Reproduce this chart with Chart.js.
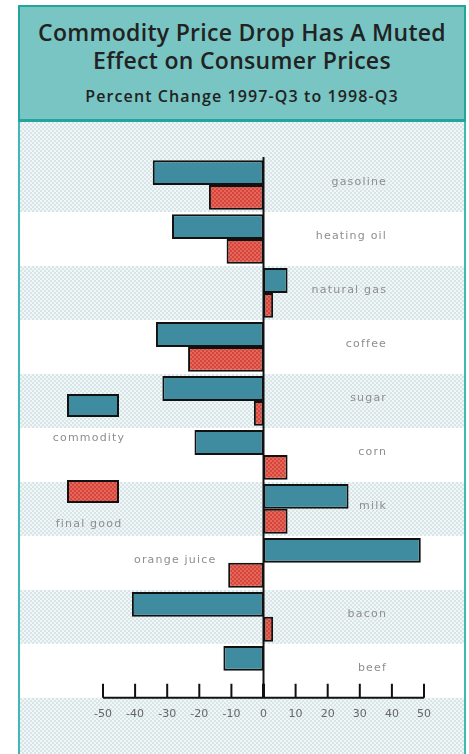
<!DOCTYPE html>
<html>
<head>
<meta charset="utf-8">
<script src="https://cdn.jsdelivr.net/npm/chart.js@4/dist/chart.umd.min.js"></script>
<style>
  body { margin: 0; background: #fff; width: 469px; height: 754px; overflow: hidden; position: relative; }
  #head {
    position: absolute; left: 18px; top: 5px; width: 448px; height: 117px;
    box-sizing: border-box; background: #78c5c3;
    border: 2px solid #22a59d; border-bottom-width: 3px;
    font-family: "Open Sans", sans-serif; color: #222; text-align: center;
  }
  #head .t { font-weight: 600; font-size: 23px; letter-spacing: 0.3px; line-height: 28px; margin-top: 11px; }
  #head .s { font-weight: 600; font-size: 16px; letter-spacing: 1.1px; line-height: 20px; margin-top: 12px; }
  #wrap {
    position: absolute; left: 18px; top: 122px; width: 448px; height: 632px;
    box-sizing: border-box; border-left: 2px solid #3dbab3; border-right: 2px solid #3dbab3;
  }
</style>
</head>
<body>
<div id="head">
  <div class="t">Commodity Price Drop Has A Muted<br>Effect on Consumer Prices</div>
  <div class="s">Percent Change 1997-Q3 to 1998-Q3</div>
</div>
<div id="wrap"><canvas id="c" width="444" height="632"></canvas></div>
<script>
var categories = ['gasoline', 'heating oil', 'natural gas', 'coffee', 'sugar', 'corn', 'milk', 'orange juice', 'bacon', 'beef'];
var commodity = [-34.5, -28.5, 7.5, -33.5, -31.5, -21.5, 26.5, 49, -41, -12.5];
var finalGood = [-17, -11.5, 3, -23.5, -3, 7.5, 7.5, -11, 3, null];
var seriesNames = ['commodity', 'final good'];

var makePattern = function(bg, dot){
  var p = document.createElement('canvas');
  p.width = 4; p.height = 4;
  var g = p.getContext('2d');
  g.fillStyle = bg;
  g.fillRect(0, 0, 4, 4);
  g.fillStyle = dot;
  g.fillRect(0, 0, 2, 2);
  g.fillRect(2, 2, 2, 2);
  return document.getElementById('c').getContext('2d').createPattern(p, 'repeat');
};

var bandFill = makePattern('#f1f6f7', '#d7e5e8');
var redFill = makePattern('#d8443a', '#e2685c');
var blueFill = '#3f8b9f';

var bands = {
  id: 'bands',
  beforeDraw: function(chart){
    var ctx = chart.ctx;
    var y = chart.scales.y;
    var a = chart.chartArea;
    var half = (y.getPixelForValue(1) - y.getPixelForValue(0)) / 2;
    ctx.save();
    ctx.fillStyle = bandFill;
    for (var i = 0; i < categories.length; i += 2){
      var top = y.getPixelForValue(i) - half;
      if (i == 0) top = 0;
      ctx.fillRect(0, top, chart.width, y.getPixelForValue(i) + half - top);
    }
    ctx.fillRect(0, a.bottom, chart.width, chart.height - a.bottom);
    ctx.restore();
  },
  afterDatasetsDraw: function(chart){
    var ctx = chart.ctx;
    var x = chart.scales.x;
    var y = chart.scales.y;
    var a = chart.chartArea;
    ctx.save();
    // zero line
    ctx.strokeStyle = '#111';
    ctx.lineWidth = 2;
    ctx.beginPath();
    ctx.moveTo(x.getPixelForValue(0), a.top - 1);
    ctx.lineTo(x.getPixelForValue(0), a.bottom);
    ctx.stroke();
    // axis with upward ticks
    ctx.beginPath();
    ctx.moveTo(x.getPixelForValue(-50), a.bottom);
    ctx.lineTo(x.getPixelForValue(50), a.bottom);
    for (var i = 0; i < x.ticks.length; i++){
      var px = x.getPixelForTick(i);
      ctx.moveTo(px, a.bottom);
      ctx.lineTo(px, a.bottom - 14);
    }
    ctx.stroke();
    ctx.lineWidth = 3;
    ctx.beginPath();
    ctx.moveTo(x.getPixelForValue(0), a.bottom);
    ctx.lineTo(x.getPixelForValue(0), a.bottom - 14);
    ctx.stroke();

    // category labels
    ctx.font = '11px "DejaVu Sans"';
    ctx.letterSpacing = '1.2px';
    ctx.fillStyle = '#8e8e8e';
    ctx.textBaseline = 'middle';
    for (var i = 0; i < categories.length; i++){
      var py = y.getPixelForValue(i) - 3;
      if (categories[i] == 'orange juice'){
        ctx.textAlign = 'center';
        ctx.fillText(categories[i], x.getPixelForValue(-27.5), py);
      }
      else{
        ctx.textAlign = 'right';
        ctx.fillText(categories[i], x.getPixelForValue(38.5), py);
      }
    }

    // legend
    var fills = [blueFill, redFill];
    var boxTop = [273, 359];
    for (var k = 0; k < 2; k++){
      ctx.fillStyle = fills[k];
      ctx.fillRect(48, boxTop[k], 50, 21);
      ctx.strokeStyle = '#111';
      ctx.lineWidth = 2;
      ctx.strokeRect(48, boxTop[k], 50, 21);
      ctx.fillStyle = '#8e8e8e';
      ctx.textAlign = 'center';
      ctx.fillText(seriesNames[k], 69, boxTop[k] + 43);
    }
    ctx.restore();
  }
};

new Chart(document.getElementById('c'), {
  type: 'bar',
  data: {
    labels: categories,
    datasets: [
      {label: seriesNames[0], data: commodity, backgroundColor: blueFill, borderColor: '#111', borderWidth: 2, borderSkipped: false},
      {label: seriesNames[1], data: finalGood, backgroundColor: redFill, borderColor: '#111', borderWidth: 2, borderSkipped: false}
    ]
  },
  options: {
    indexAxis: 'y',
    responsive: false,
    animation: false,
    categoryPercentage: 0.92,
    barPercentage: 1.0,
    layout: {padding: {left: 83, right: 40, top: 36, bottom: 23}},
    plugins: {legend: {display: false}, tooltip: {enabled: false}},
    scales: {
      y: {display: false},
      x: {
        min: -50, max: 50,
        border: {display: false},
        grid: {display: false, drawTicks: false},
        ticks: {stepSize: 10, padding: 10, color: '#666', font: {family: 'DejaVu Sans', size: 11}}
      }
    }
  },
  plugins: [bands]
});
</script>
</body>
</html>
